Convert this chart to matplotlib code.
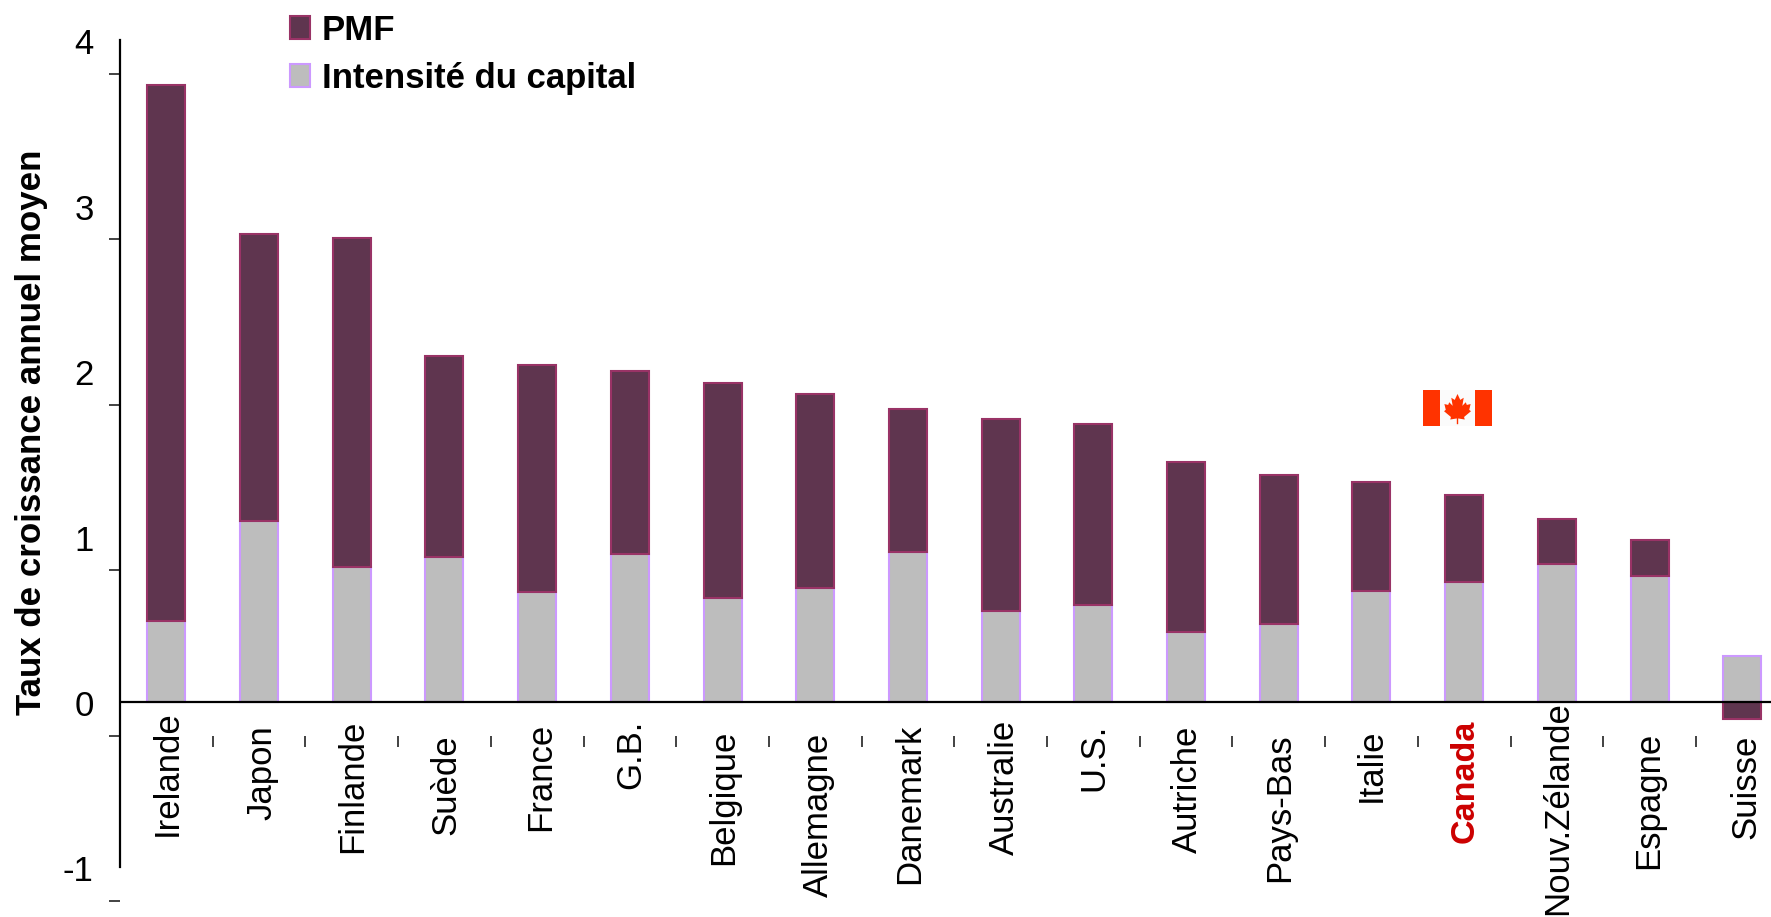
import matplotlib
matplotlib.use("Agg")
import matplotlib.pyplot as plt
from matplotlib.patches import Patch, Polygon, Rectangle
from matplotlib.transforms import blended_transform_factory, offset_copy
import numpy as np

plt.rcParams['font.family'] = ['Liberation Sans', 'DejaVu Sans']

countries = ["Irelande", "Japon", "Finlande", "Suède", "France", "G.B.", "Belgique",
             "Allemagne", "Danemark", "Australie", "U.S.", "Autriche", "Pays-Bas",
             "Italie", "Canada", "Nouv.Zélande", "Espagne", "Suisse"]
capital = [0.49, 1.09, 0.815, 0.875, 0.665, 0.89, 0.625, 0.685, 0.905,
           0.55, 0.585, 0.42, 0.47, 0.67, 0.725, 0.83, 0.76, 0.275]
pmf = [3.24, 1.74, 1.985, 1.215, 1.37, 1.11, 1.30, 1.175, 0.865,
       1.16, 1.095, 1.03, 0.90, 0.655, 0.525, 0.275, 0.215, -0.105]
y_labels = [4, 3, 2, 1, 0, -1]

# layout (pixels in the 1771x917 canvas)
W, H = 1771, 917
label_top = [710, 725, 720, 734, 723, 720, 730, 733, 724, 720, 724, 726, 733, 728, 720, 701, 732, 735]
label_dx = [0.01, 0.03, 0.01, 0.02, 0.04, 0.01, 0.01, 0.03, 0.02, 0.04, 0.01, 0.01, 0.01,
            0.0, 0.01, 0.01, -0.01, 0.04]
tick_shift = -0.206

fig = plt.figure(figsize=(W/100, H/100), dpi=100)
ax = fig.add_axes([120/W, 1-901/H, (W-120)/W, (901-40)/H])
x = np.arange(len(countries))
cap = np.array(capital); p = np.array(pmf)
bottoms = np.where(p >= 0, cap, 0)
ax.bar(x, capital, width=0.41, color="#BDBDBD", edgecolor="#CC99FF", linewidth=1.5, zorder=2)
ax.bar(x, pmf, bottom=bottoms, width=0.41, color="#5F354F", edgecolor="#993366", linewidth=1.5, zorder=2)
ax.axhline(0, color="black", lw=1.6, zorder=3)

for s in ("top", "right"):
    ax.spines[s].set_visible(False)
ax.spines["left"].set_linewidth(1.6)
ax.spines["left"].set_bounds(-1, 4)
ax.spines["bottom"].set_position(("data", tick_shift))
ax.spines["bottom"].set_visible(False)

ax.set_xticks(x[:-1] + 0.5)
ax.set_xticklabels([])
ax.tick_params(axis="x", length=8, width=1.2, direction="out", color="#222222")

ax.set_yticks(y_labels)
ax.set_yticklabels([str(v) for v in y_labels], fontsize=25, color="black")
ax.tick_params(axis="y", which="major", length=0, pad=19)
for lab in ax.get_yticklabels():
    lab.set_verticalalignment("center")
    lab.set_transform(offset_copy(lab.get_transform(), fig=fig, x=0, y=-5, units="dots"))
ax.set_yticks([v + tick_shift for v in y_labels], minor=True)
ax.tick_params(axis="y", which="minor", length=8, width=1.2, color="#222222")

ax.set_xlim(-0.5, 17.31)
ax.set_ylim(-1 + tick_shift, 4)

tr = blended_transform_factory(ax.transData, fig.transFigure)
for i, (name, top, dx) in enumerate(zip(countries, label_top, label_dx)):
    can = name == "Canada"
    ax.text(i + dx, 1 - top/H, name, rotation=90, ha="center", va="top", transform=tr,
            fontsize=24.6 if can else 25, fontweight="bold" if can else "normal",
            color="#CC0000" if can else "black", clip_on=False)

fig.text(32/W, 1-432/H, "Taux de croissance annuel moyen", rotation=90, ha="center",
         va="center", fontsize=25.1, fontweight="bold")

handles = [Patch(facecolor="#5F354F", edgecolor="#993366", lw=1.5, label="PMF"),
           Patch(facecolor="#BDBDBD", edgecolor="#CC99FF", lw=1.5, label="Intensité du capital")]
fig.legend(handles=handles, loc="upper left", bbox_to_anchor=(290/W, 1-14/H), frameon=False,
           prop={"weight": "bold", "size": 25}, handlelength=0.58, handleheight=0.65,
           handletextpad=0.34, labelspacing=0.42, borderpad=0, borderaxespad=0)

fl = fig.add_axes([1423/W, 1-426/H, 69/W, 36/H])
fl.set_xlim(0, 4); fl.set_ylim(0, 2); fl.axis("off")
fl.add_patch(Rectangle((0, 0), 1, 2, color="#FF3300", lw=0))
fl.add_patch(Rectangle((1, 0), 2, 2, color="#FBFBFB", lw=0))
fl.add_patch(Rectangle((3, 0), 1, 2, color="#FF3300", lw=0))
leaf = [(2, 1.78), (1.84, 1.45), (1.64, 1.57), (1.72, 1.12), (1.52, 1.32), (1.46, 1.17), (1.24, 1.22),
        (1.32, 0.9), (1.22, 0.82), (1.62, 0.5), (1.58, 0.36), (1.96, 0.42), (1.96, 0.1),
        (2.04, 0.1), (2.04, 0.42), (2.42, 0.36), (2.38, 0.5), (2.78, 0.82), (2.68, 0.9),
        (2.76, 1.22), (2.54, 1.17), (2.48, 1.32), (2.28, 1.12), (2.36, 1.57), (2.16, 1.45)]
fl.add_patch(Polygon(leaf, closed=True, color="#FF3300", lw=0))

fig.savefig("out.png", dpi=100)
